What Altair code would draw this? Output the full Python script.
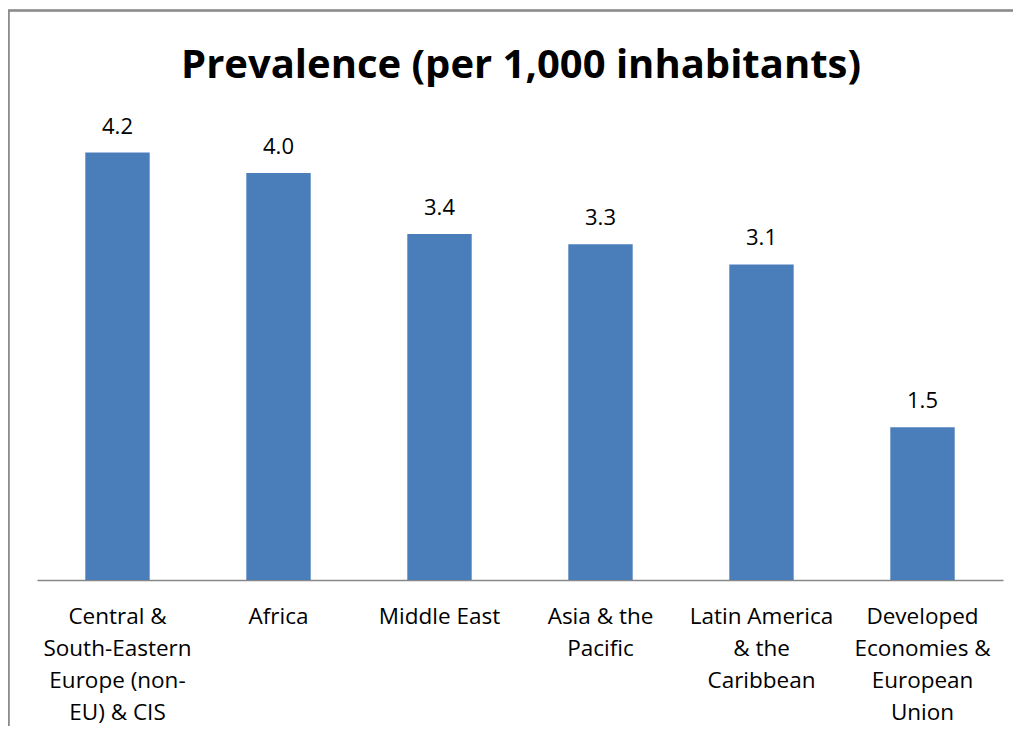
import altair as alt
import pandas as pd

categories = [
    "Central &|South-Eastern|Europe (non-|EU) & CIS",
    "Africa",
    "Middle East",
    "Asia & the|Pacific",
    "Latin America|& the|Caribbean",
    "Developed|Economies &|European|Union",
]
values = [4.2, 4.0, 3.4, 3.3, 3.1, 1.5]
labels = ["4.2", "4.0", "3.4", "3.3", "3.1", "1.5"]
title_text = "Prevalence (per 1,000 inhabitants)"

df = pd.DataFrame({"region": categories, "value": values, "label": labels})
tdf = pd.DataFrame({"t": [title_text]})

FONT = "Open Sans"

x = alt.X(
    "region:N",
    sort=categories,
    scale=alt.Scale(paddingInner=0.6, paddingOuter=0.3),
    axis=alt.Axis(
        title=None,
        labelAngle=0,
        ticks=False,
        domainColor="#888888",
        domainWidth=1.5,
        labelExpr="split(datum.label, '|')",
        labelLineHeight=32,
        labelFontSize=22.5,
        labelFont=FONT,
        labelColor="#000000",
        labelPadding=25,
        labelLimit=300,
    ),
)
y = alt.Y("value:Q", scale=alt.Scale(domain=[0, 4.5]), axis=None)

bars = alt.Chart(df).mark_bar(color="#4a7ebb").encode(x=x, y=y)
text = alt.Chart(df).mark_text(
    dy=-19, baseline="alphabetic", fontSize=22, font=FONT, color="#000000"
).encode(x=x, y=y, text="label:N")

title = alt.Chart(tdf).mark_text(
    font=FONT, fontSize=40, fontWeight="bold", color="#000000",
    baseline="alphabetic", align="center"
).encode(x=alt.value(484), y=alt.value(-44), text="t:N")

frame = alt.Chart(df).mark_rect(
    fill=None, stroke="#8c8c8c", strokeWidth=1.5
).encode(
    x=alt.value(-28.5), x2=alt.value(1000), y=alt.value(-111.5), y2=alt.value(700)
)

chart = alt.layer(frame, bars, text, title).properties(
    width=966,
    height=458,
    autosize=alt.AutoSizeParams(type="none"),
    padding={"left": 29, "top": 114, "right": 10, "bottom": 146},
).configure_view(stroke=None)

chart.save("out.html", embed_options={"renderer": "svg", "actions": False})
